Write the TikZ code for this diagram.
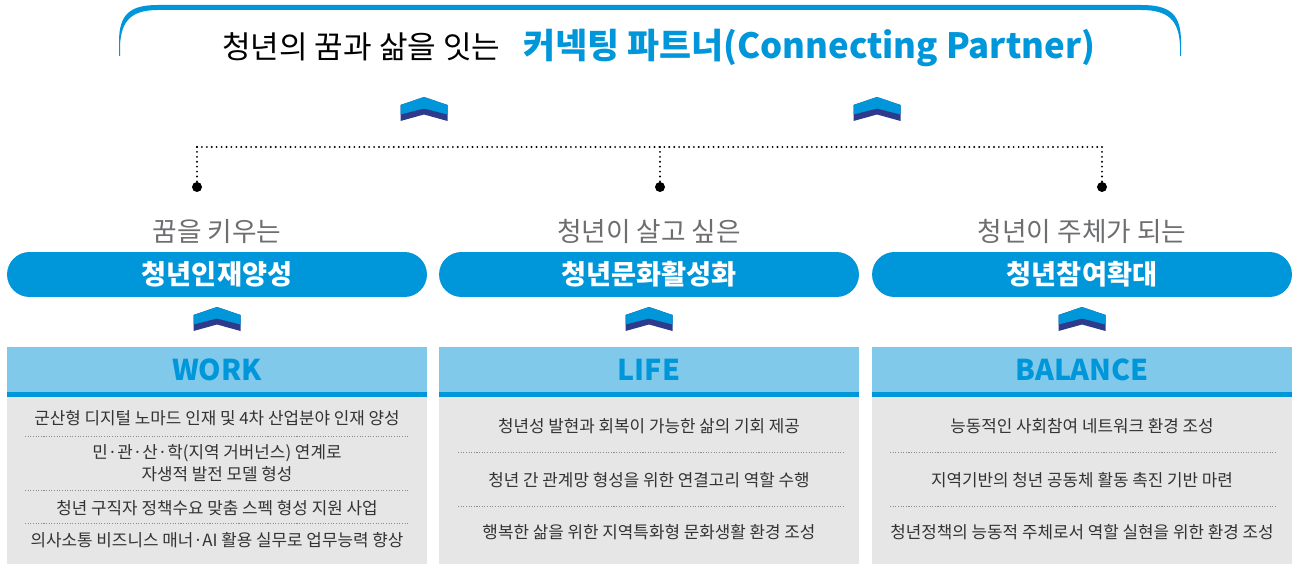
\documentclass[tikz,border=0pt]{standalone}
\usepackage{fontspec}
\setmainfont{Noto Sans CJK KR}
\definecolor{mainblue}{HTML}{0096DA}
\definecolor{navy}{HTML}{2E3A8C}
\definecolor{headblue}{HTML}{80C9EB}
\definecolor{boxgray}{HTML}{E6E6E6}
\definecolor{subgray}{HTML}{6D6E70}
\definecolor{bodytext}{HTML}{333333}
\definecolor{sepgray}{HTML}{8C8C8C}

\tikzset{
  treeline/.style={line width=1.2pt, dash pattern=on 0pt off 2.8pt, line cap=round},
  sepline/.style={draw=sepgray, line width=0.5pt, dash pattern=on 0.6pt off 0.9pt},
  enddot/.style={circle, fill=black, minimum size=0.2cm, inner sep=0pt},
  pill/.style={fill=mainblue, text=white, font=\bfseries\fontsize{15.5}{15.5}\selectfont,
    minimum width=8.4cm, minimum height=0.9cm, rounded corners=0.45cm, inner sep=0pt},
  subtitle/.style={text=subgray, font=\fontsize{15.2}{15.2}\selectfont},
  headbox/.style={fill=headblue, text=mainblue, font=\bfseries\fontsize{16.3}{16.3}\selectfont,
    minimum width=8.4cm, minimum height=0.9cm, inner sep=0pt},
  item/.style={text=bodytext, font=\fontsize{9.6}{12.5}\selectfont, align=center, inner sep=0pt},
}

% chevron pointing up, apex at (#1,#2)
\newcommand{\upmark}[2]{%
  \fill[navy] (#1-23.5,#2+8) -- (#1,#2) -- (#1+23.5,#2+8) -- (#1+23.5,#2+24)
    -- (#1,#2+17.5) -- (#1-23.5,#2+24) -- cycle;
  \fill[mainblue] (#1-23.5,#2+8) -- (#1,#2) -- (#1+23.5,#2+8) -- (#1+23.5,#2+17.5)
    -- (#1,#2+11.5) -- (#1-23.5,#2+17.5) -- cycle;}

\begin{document}
\begin{tikzpicture}[x=0.02cm,y=-0.02cm]
\useasboundingbox (0,0) rectangle (1294,564);

% top frame
\fill[mainblue] (119,56) -- (119,42) .. controls (119,14) and (130,5) .. (158,5)
  -- (1141,5) .. controls (1170,5) and (1181,14) .. (1181,42) -- (1181,56)
  -- (1180,56) -- (1180,46) .. controls (1179,20) and (1168,10) .. (1141,10)
  -- (158,10) .. controls (132,10) and (121,20) .. (120,46) -- (120,56) -- cycle;

\node[anchor=west, font=\fontsize{17.7}{17.7}\selectfont] (title) at (216,47) {청년의 꿈과 삶을 잇는};
\node[anchor=west, text=mainblue, font=\bfseries\fontsize{19.8}{19.8}\selectfont] (partner) at (517,48) {커넥팅 파트너(Connecting Partner)};

\upmark{424}{97}
\upmark{877}{97}

% tree
\coordinate (j1) at (197,147);
\coordinate (j2) at (660,147);
\coordinate (j3) at (1102,147);
\node[enddot] (d1) at (197,187) {};
\node[enddot] (d2) at (660,187) {};
\node[enddot] (d3) at (1102,187) {};
\draw[treeline] (j1) -- (j3);
\draw[treeline] (j1) -- (d1);
\draw[treeline] (j2) -- (d2);
\draw[treeline] (j3) -- (d3);

\node[subtitle] (s1) at (217,231) {꿈을 키우는};
\node[subtitle] (s2) at (649,231) {청년이 살고 싶은};
\node[subtitle] (s3) at (1082,231) {청년이 주체가 되는};

\node[pill] (p1) at (217,274.5) {청년인재양성};
\node[pill] (p2) at (649,274.5) {청년문화활성화};
\node[pill] (p3) at (1082,274.5) {청년참여확대};

\upmark{217}{307}
\upmark{649}{307}
\upmark{1082}{307}

% boxes
\fill[boxgray] (7,392) rectangle (427,564);
\fill[boxgray] (439,392) rectangle (859,564);
\fill[boxgray] (872,392) rectangle (1292,564);
\fill[mainblue] (7,392) rectangle (427,397);
\fill[mainblue] (439,392) rectangle (859,397);
\fill[mainblue] (872,392) rectangle (1292,397);

\node[headbox] (h1) at (217,369.5) {WORK};
\node[headbox] (h2) at (649,369.5) {LIFE};
\node[headbox] (h3) at (1082,369.5) {BALANCE};

\node[item] (w1) at (217,418) {군산형 디지털 노마드 인재 및 4차 산업분야 인재 양성};
\draw[sepline] (25,436) -- (409,436);
\node[item] (w2) at (217,463) {민·관·산·학(지역 거버넌스) 연계로\\자생적 발전 모델 형성};
\draw[sepline] (25,490) -- (409,490);
\node[item] (w3) at (217,508) {청년 구직자 정책수요 맞춤 스펙 형성 지원 사업};
\draw[sepline] (25,523) -- (409,523);
\node[item] (w4) at (217,540) {의사소통 비즈니스 매너·AI 활용 실무로 업무능력 향상};

\node[item] (l1) at (649,426) {청년성 발현과 회복이 가능한 삶의 기회 제공};
\draw[sepline] (458,452) -- (843,452);
\node[item] (l2) at (649,480) {청년 간 관계망 형성을 위한 연결고리 역할 수행};
\draw[sepline] (458,506) -- (843,506);
\node[item] (l3) at (649,532) {행복한 삶을 위한 지역특화형 문화생활 환경 조성};

\node[item] (b1) at (1082,426) {능동적인 사회참여 네트워크 환경 조성};
\draw[sepline] (890,452) -- (1275,452);
\node[item] (b2) at (1082,480) {지역기반의 청년 공동체 활동 촉진 기반 마련};
\draw[sepline] (890,506) -- (1275,506);
\node[item] (b3) at (1082,532) {청년정책의 능동적 주체로서 역할 실현을 위한 환경 조성};

\end{tikzpicture}
\end{document}
